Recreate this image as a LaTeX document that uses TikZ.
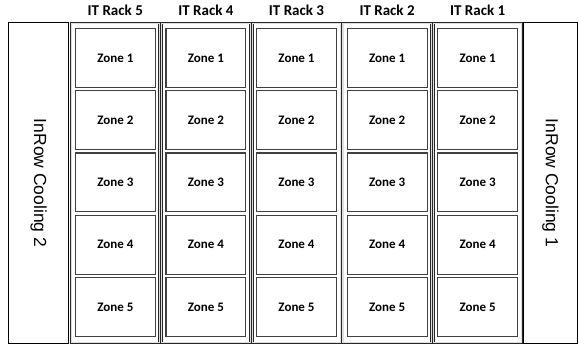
\documentclass[tikz,border=0pt]{standalone}
\usepackage{fontspec}
\setmainfont{Carlito}
\newfontfamily\coolfont{Liberation Sans}
\usetikzlibrary{positioning}
\tikzset{
  coolbox/.style={rectangle,draw=black,line width=0.8pt,minimum height=321.2pt,inner sep=0pt,outer sep=0pt},
  rackbox/.style={rectangle,draw=black!85,double=gray!25,double distance=1.1pt,line width=0.6pt,
                  minimum width=88.3pt,minimum height=319.7pt,inner sep=0pt,outer sep=0pt},
  zonebox/.style={rectangle,draw=black!75,line width=1.1pt,minimum width=79.9pt,minimum height=58.9pt,
                  inner sep=0pt,outer sep=0pt,font=\fontsize{13}{15}\selectfont\bfseries},
  racklabel/.style={inner sep=0pt,font=\fontsize{15}{17}\selectfont\bfseries},
  coollabel/.style={inner sep=0pt,rotate=-90,font=\coolfont\fontsize{17.5}{20}\selectfont}
}
\begin{document}
\begin{tikzpicture}[node distance=2.3pt]
  \useasboundingbox (0,0) rectangle (579pt,348pt);

  %% Racks, numbered right to left
  \node[rackbox] (r5) at (115.3pt,165pt) {};
  \node[rackbox,right=of r5] (r4) {};
  \node[rackbox,right=of r4] (r3) {};
  \node[rackbox,right=of r3] (r2) {};
  \node[rackbox,right=of r2] (r1) {};

  %% InRow cooling units at both ends
  \node[coolbox,minimum width=60.2pt,left=2.5pt of r5] (cool2) {};
  \node[coolbox,minimum width=54.2pt,right=1.5pt of r1] (cool1) {};
  \node[coollabel] (cool2text) at (cool2) {InRow Cooling 2};
  \node[coollabel] (cool1text) at (cool1) {InRow Cooling 1};

  %% Rack titles and zones
  \foreach \r in {1,...,5} {
    \node[racklabel,above=7.5pt of r\r] (lab\r) {IT Rack \r};
    \node[zonebox,below=5.4pt of r\r.north] (z\r-1) {Zone 1};
    \foreach \z [evaluate=\z as \p using int(\z-1)] in {2,...,5}
      \node[zonebox,below=3.35pt of z\r-\p] (z\r-\z) {Zone \z};
  }
\end{tikzpicture}
\end{document}
